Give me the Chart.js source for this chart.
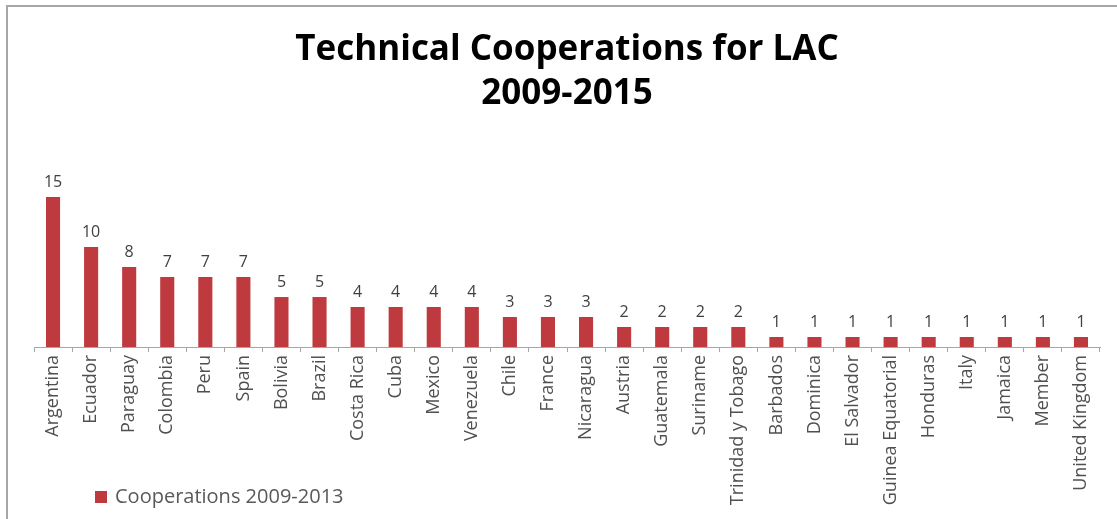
<!DOCTYPE html>
<html>
<head>
<meta charset="utf-8">
<title>Technical Cooperations for LAC</title>
<script src="https://cdn.jsdelivr.net/npm/chart.js@4.4.1/dist/chart.umd.min.js"></script>
<style>
  html, body { margin: 0; padding: 0; background: #fff; }
  #wrap { position: relative; width: 1117px; height: 519px; }
</style>
</head>
<body>
<div id="wrap"><canvas id="myChart" width="1117" height="519"></canvas></div>
<script>
// Datos del gráfico
const countries = ['Argentina', 'Ecuador', 'Paraguay', 'Colombia', 'Peru', 'Spain', 'Bolivia', 'Brazil',
  'Costa Rica', 'Cuba', 'Mexico', 'Venezuela', 'Chile', 'France', 'Nicaragua', 'Austria', 'Guatemala',
  'Suriname', 'Trinidad y Tobago', 'Barbados', 'Dominica', 'El Salvador', 'Guinea Equatorial',
  'Honduras', 'Italy', 'Jamaica', 'Member', 'United Kingdom'];
const cooperations = [15, 10, 8, 7, 7, 7, 5, 5, 4, 4, 4, 4, 3, 3, 3, 2, 2, 2, 2, 1, 1, 1, 1, 1, 1, 1, 1, 1];
const seriesName = 'Cooperations 2009-2013';
const titleLines = ['Technical Cooperations for LAC', '2009-2015'];

const barColor = '#BE3A3E';
const fontFam = '"Open Sans", "DejaVu Sans", sans-serif';

// Marco gris y leyenda (la leyenda va sobre la zona de etiquetas, como en el original)
const framePlugin = {
  id: 'frame',
  beforeDraw(chart) {
    const ctx = chart.ctx;
    ctx.save();
    ctx.strokeStyle = '#a6a6a6';
    ctx.lineWidth = 2;
    ctx.beginPath();
    ctx.moveTo(7, 519);
    ctx.lineTo(7, 6);
    ctx.lineTo(1117, 6);
    ctx.stroke();
    ctx.restore();
  },
  afterDraw(chart) {
    const ctx = chart.ctx;
    ctx.save();
    ctx.fillStyle = barColor;
    ctx.fillRect(95, 491, 12, 12);
    ctx.fillStyle = '#595959';
    ctx.font = '20px ' + fontFam;
    ctx.textBaseline = 'middle';
    ctx.fillText(seriesName, 115, 497);
    ctx.restore();
  }
};

// Etiquetas de valor encima de cada barra
const valueLabels = {
  id: 'valueLabels',
  afterDatasetsDraw(chart) {
    const ctx = chart.ctx;
    const meta = chart.getDatasetMeta(0);
    ctx.save();
    ctx.fillStyle = '#404040';
    ctx.font = '16px ' + fontFam;
    ctx.textAlign = 'center';
    ctx.textBaseline = 'bottom';
    meta.data.forEach((bar, i) => {
      ctx.fillText(String(cooperations[i]), bar.x, bar.y - 7);
    });
    ctx.restore();
  }
};

const ctx = document.getElementById('myChart').getContext('2d');
const chart = new Chart(ctx, {
  type: 'bar',
  data: {
    labels: countries,
    datasets: [{
      label: seriesName,
      data: cooperations,
      backgroundColor: barColor,
      borderWidth: 0,
      barPercentage: 0.37,
      categoryPercentage: 1
    }]
  },
  options: {
    responsive: false,
    animation: false,
    layout: { padding: { left: 34, right: 17, top: 0, bottom: 0 } },
    plugins: {
      legend: { display: false },
      tooltip: { enabled: false },
      title: {
        display: true,
        text: titleLines,
        color: '#000',
        font: { family: fontFam, size: 35, weight: 'bold', lineHeight: 1.23 },
        padding: { top: 29, bottom: 72 }
      }
    },
    scales: {
      x: {
        afterFit(scale) { scale.height = 172; },
        grid: {
          display: true,
          offset: true,
          drawOnChartArea: false,
          drawTicks: true,
          tickLength: 5,
          color: '#a6a6a6'
        },
        border: { display: true, color: '#a6a6a6', width: 1 },
        ticks: {
          autoSkip: false,
          minRotation: 90,
          maxRotation: 90,
          padding: 3,
          color: '#505050',
          font: { family: fontFam, size: 18 }
        }
      },
      y: {
        display: false,
        min: 0,
        max: 16
      }
    }
  },
  plugins: [framePlugin, valueLabels]
});
</script>
</body>
</html>
